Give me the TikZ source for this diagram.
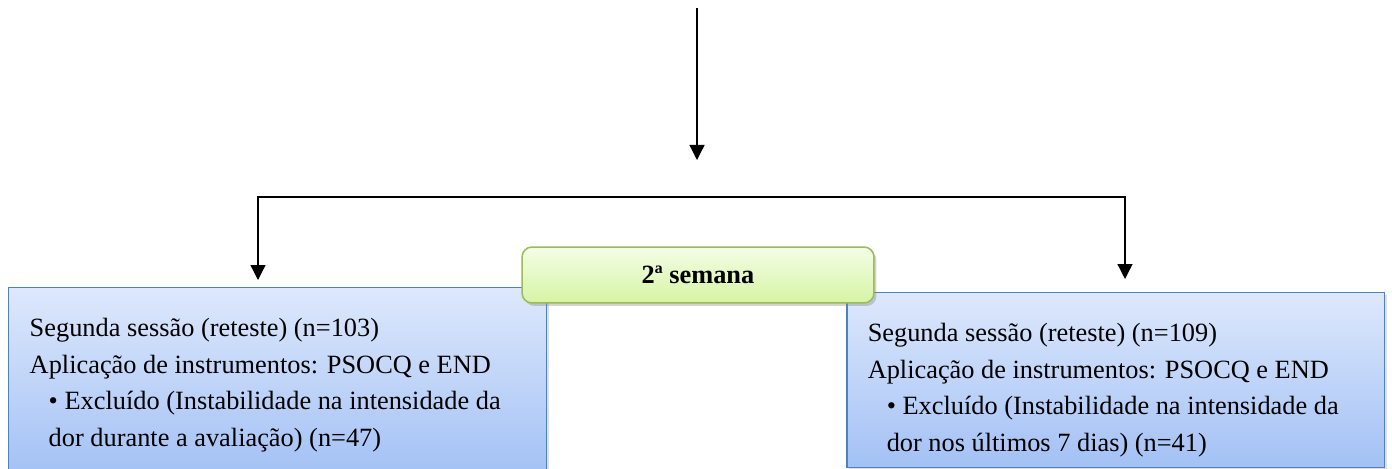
\documentclass[tikz,border=0pt]{standalone}
\usepackage{fontspec}
\setmainfont{Liberation Serif}
\usetikzlibrary{positioning,arrows.meta,shadows,calc}
\tikzset{>={Triangle[width=0.3cm,length=0.3cm]}}
\definecolor{azulborda}{HTML}{4F81BD}
\definecolor{azultopo}{HTML}{DDE8FC}
\definecolor{azulbase}{HTML}{A3C1F5}
\definecolor{verdeborda}{HTML}{9BBB59}
\definecolor{verdetopo}{HTML}{F4FDE6}
\definecolor{verdebase}{HTML}{D6F4A4}
\newcommand*{\bloco}[2]{\begin{minipage}[t][#1][t]{9.92cm}\fontsize{15}{20.8}\selectfont\rule{0pt}{0.98cm}#2\end{minipage}}
\newcommand*{\recuo}{\hspace*{0.38cm}}

\begin{document}
\begin{tikzpicture}[x=0.02cm,y=-0.02cm,line width=0.75pt,
  caixa/.style={draw=azulborda,line width=0.03cm,top color=azultopo,bottom color=azulbase,
    inner xsep=0.42cm,inner ysep=0pt,anchor=north west,
    drop shadow={opacity=0.25,shadow xshift=0.04cm,shadow yshift=-0.04cm}},
  semana/.style={draw=verdeborda,line width=0.03cm,rounded corners=0.2cm,
    top color=verdetopo,bottom color=verdebase,minimum width=7.04cm,minimum height=1.12cm,
    font=\fontsize{15}{18}\selectfont\bfseries,
    drop shadow={opacity=0.35,shadow xshift=0.05cm,shadow yshift=-0.06cm}}]
\useasboundingbox (0,0) rectangle (1392,469);
\clip (0,0) rectangle (1392,469);
% Draw the two session boxes
\node[caixa] (sessaoA) at (8,287) {\bloco{3.76cm}{Segunda sessão (reteste) (n=103)\\
  Aplicação de instrumentos: PSOCQ e END\\
  \recuo• Excluído (Instabilidade na intensidade da\\
  \recuo dor durante a avaliação) (n=47)}};
\node[caixa] (sessaoB) at (846,292) {\bloco{3.5cm}{Segunda sessão (reteste) (n=109)\\
  Aplicação de instrumentos: PSOCQ e END\\
  \recuo• Excluído (Instabilidade na intensidade da\\
  \recuo dor nos últimos 7 dias) (n=41)}};
% Week label over both boxes
\node[semana] (semana) at (698,275) {2ª semana};
% Arrow from above
\coordinate (entrada) at (697,8);
\coordinate (saida) at (697,160);
\draw[->] (entrada) -- (saida);
% Branch to both boxes
\coordinate (ramoE) at (258,197);
\coordinate (ramoD) at (1125,197);
\draw[<->] ([yshift=0.14cm]sessaoA.north -| ramoE) |- (ramoD) -- ([yshift=0.26cm]sessaoB.north -| ramoD);
\draw[line width=0.05cm] (637,197) -- (747,197);
\end{tikzpicture}
\end{document}
